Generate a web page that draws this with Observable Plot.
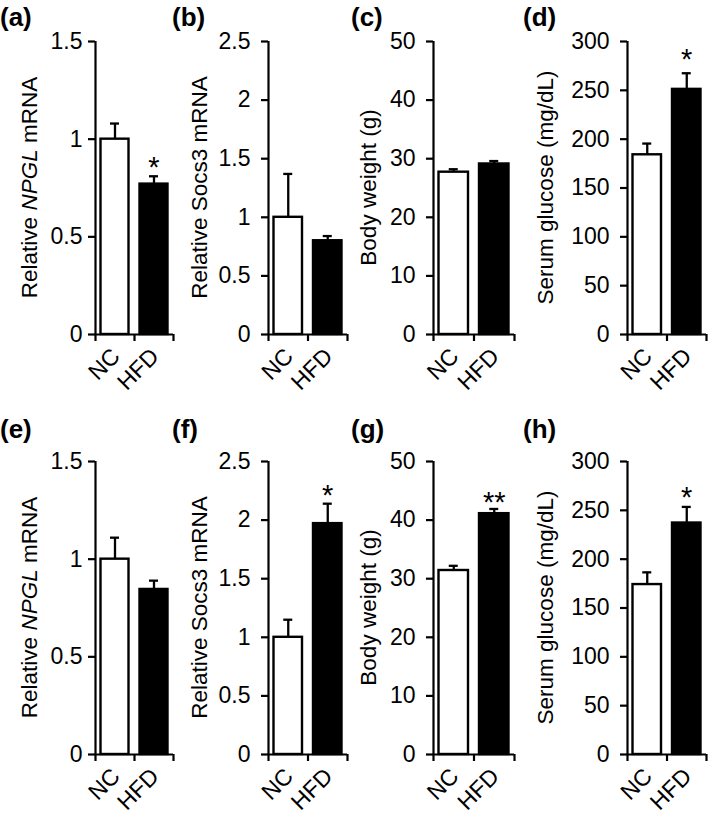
<!DOCTYPE html>
<html>
<head>
<meta charset="utf-8">
<script src="https://cdn.jsdelivr.net/npm/d3@7"></script>
<script src="https://cdn.jsdelivr.net/npm/@observablehq/plot@0.6"></script>
<style>
  html, body { margin: 0; padding: 0; background: #fff; }
  #fig { position: relative; width: 711px; height: 818px; overflow: hidden; font-family: "Liberation Sans", Arial, sans-serif; }
  #fig svg { position: absolute; overflow: visible; }
  #fig svg g[aria-label="y-axis tick label"] text,
  #fig svg g[aria-label="x-axis tick label"] text { font-size: 23px; }
  .plab { position: absolute; font: bold 26px/26px "Liberation Sans", Arial, sans-serif; color: #000; }
</style>
</head>
<body>
<div id="fig"></div>
<script>
// ---------- data ----------
const groups = ["NC", "HFD"];

const meanA = [1.00, 0.77];  const errA = [0.08, 0.04];  const starsA = ["", "*"];
const meanB = [1.00, 0.80];  const errB = [0.37, 0.04];  const starsB = ["", ""];
const meanC = [27.7, 29.1];  const errC = [0.5, 0.5];    const starsC = ["", ""];
const meanD = [184, 251];    const errD = [11.5, 16.5];  const starsD = ["", "*"];
const meanE = [1.00, 0.845]; const errE = [0.11, 0.045]; const starsE = ["", ""];
const meanF = [1.00, 1.97];  const errF = [0.15, 0.17];  const starsF = ["", "*"];
const meanG = [31.4, 41.1];  const errG = [0.8, 0.8];    const starsG = ["", "**"];
const meanH = [174, 237];    const errH = [12.5, 16.5];  const starsH = ["", "*"];

const ticksNPGL = [0, 0.5, 1, 1.5];
const ticksSocs = [0, 0.5, 1, 1.5, 2, 2.5];
const ticksBW = [0, 10, 20, 30, 40, 50];
const ticksGlu = [0, 50, 100, 150, 200, 250, 300];

const labelNPGL = [["Relative ", false], ["NPGL", true], [" mRNA", false]];
const labelSocs = [["Relative Socs3 mRNA", false]];
const labelBW = [["Body weight (g)", false]];
const labelGlu = [["Serum glucose (mg/dL)", false]];

const panelNames = ["(a)", "(b)", "(c)", "(d)", "(e)", "(f)", "(g)", "(h)"];

// ---------- styles / layout ----------
const FONT = '"Liberation Sans", Arial, sans-serif';
const barFill = ["white", "black"];
const fig = document.getElementById("fig");

const rowsLayout = [
  {top: 0, height: 410, mt: 41, mb: 76, labTop: 4},
  {top: 420, height: 398, mt: 41, mb: 64, labTop: 416}
];
const colsLayout = [
  {left: 0,   width: 178, ml: 95, mr: 5,  gap: 58, pad: 6,  labLeft: 0},
  {left: 178, width: 178, ml: 90, mr: 9,  gap: 61, pad: 11, labLeft: 172},
  {left: 356, width: 178, ml: 77, mr: 20, gap: 57, pad: 11, labLeft: 351},
  {left: 534, width: 177, ml: 93, mr: 5,  gap: 74, pad: 11, labLeft: 523}
];

const panels = [
  {r: 0, c: 0, means: meanA, errs: errA, stars: starsA, ticks: ticksNPGL, label: labelNPGL, starDy: 1},
  {r: 0, c: 1, means: meanB, errs: errB, stars: starsB, ticks: ticksSocs, label: labelSocs, starDy: 1},
  {r: 0, c: 2, means: meanC, errs: errC, stars: starsC, ticks: ticksBW,   label: labelBW,   starDy: 1},
  {r: 0, c: 3, means: meanD, errs: errD, stars: starsD, ticks: ticksGlu,  label: labelGlu,  starDy: -4},
  {r: 1, c: 0, means: meanE, errs: errE, stars: starsE, ticks: ticksNPGL, label: labelNPGL, starDy: 1},
  {r: 1, c: 1, means: meanF, errs: errF, stars: starsF, ticks: ticksSocs, label: labelSocs, starDy: 1},
  {r: 1, c: 2, means: meanG, errs: errG, stars: starsG, ticks: ticksBW,   label: labelBW,   starDy: 3},
  {r: 1, c: 3, means: meanH, errs: errH, stars: starsH, ticks: ticksGlu,  label: labelGlu,  starDy: 0}
];

panels.forEach((p, k) => {
  const R = rowsLayout[p.r], C = colsLayout[p.c];
  const rows = groups.map((g, i) => ({
    g, i, mean: p.means[i], err: p.errs[i], top: p.means[i] + p.errs[i], star: p.stars[i], fill: barFill[i]
  }));
  const yMax = d3.max(p.ticks);
  const svg = Plot.plot({
    width: C.width, height: R.height,
    marginLeft: C.ml, marginRight: C.mr, marginTop: R.mt, marginBottom: R.mb,
    style: {fontFamily: FONT, fontSize: "23px", color: "black", background: "transparent", overflow: "visible"},
    x: {type: "linear", domain: [0, groups.length], axis: null},
    y: {domain: [0, yMax], axis: null},
    color: {type: "identity"},
    marks: [
      Plot.rectY(rows, {x1: d => d.i, x2: d => d.i + 1, y1: 0, y2: "mean", fill: "fill",
        stroke: "black", strokeWidth: 2.4, insetLeft: 5.5, insetRight: 5.5}),
      Plot.ruleX(rows, {x: d => d.i + 0.5, y1: "mean", y2: "top", stroke: "black", strokeWidth: 2.3}),
      Plot.ruleY(rows, {y: "top", x1: d => d.i + 0.5, x2: d => d.i + 0.5, insetLeft: -4.5, insetRight: -4.5,
        stroke: "black", strokeWidth: 2.3}),
      Plot.text(rows.filter(d => d.star), {x: d => d.i + 0.5, y: "top", text: "star", fontSize: 29,
        lineAnchor: "bottom", dy: p.starDy, fill: "black"}),
      Plot.ruleX([0], {stroke: "black", strokeWidth: 2.2}),
      Plot.ruleY([0], {stroke: "black", strokeWidth: 2.2}),
      Plot.axisY({ticks: p.ticks, tickFormat: d => String(d), tickSize: 7, tickPadding: C.pad,
        strokeWidth: 2.2, fontSize: 23, label: null}),
      Plot.axisX({ticks: d3.range(groups.length + 1), tickFormat: () => "", tickSize: 7,
        strokeWidth: 2.2, label: null}),
      Plot.axisX({ticks: groups.map((g, i) => i + 0.5), tickFormat: d => groups[Math.floor(d)],
        tickSize: 0, tickPadding: 14, tickRotate: -45, fontSize: 23, dx: 1, dy: 4, label: null})
    ]
  });
  svg.style.left = C.left + "px";
  svg.style.top = R.top + "px";
  // y-axis title with mixed styles
  const frameH = R.height - R.mt - R.mb;
  const t = d3.select(svg).append("text")
    .attr("transform", `translate(${C.ml - C.gap},${R.mt + frameH / 2}) rotate(-90)`)
    .attr("text-anchor", "middle")
    .attr("font-family", FONT)
    .style("font-size", "22.5px")
    .attr("fill", "black");
  p.label.forEach(([s, it]) => {
    t.append("tspan").attr("font-style", it ? "italic" : "normal").text(s);
  });
  fig.appendChild(svg);

  const lab = document.createElement("div");
  lab.className = "plab";
  lab.style.left = C.labLeft + "px";
  lab.style.top = R.labTop + "px";
  lab.textContent = panelNames[k];
  fig.appendChild(lab);
});
</script>
</body>
</html>
